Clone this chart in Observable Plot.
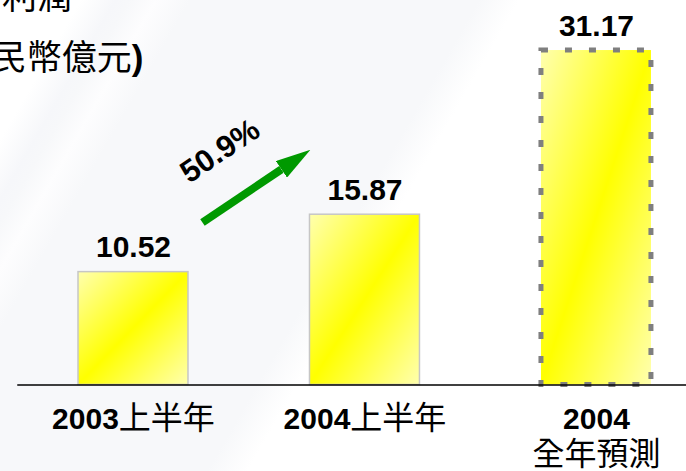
<!DOCTYPE html>
<html>
<head>
<meta charset="utf-8">
<script src="https://cdn.jsdelivr.net/npm/d3@7"></script>
<script src="https://cdn.jsdelivr.net/npm/@observablehq/plot@0.6"></script>
<style>
  html, body { margin: 0; padding: 0; width: 686px; height: 471px; overflow: hidden; background: #fff; }
  #wrap {
    position: relative; width: 686px; height: 471px; overflow: hidden;
    background: linear-gradient(120deg, #ffffff 0px, #ffffff 70px, #f6f7fa 100px, #f7f8fa 112px,
      #fdfdfe 135px, #f7f8fa 165px, #f7f8fa 415px, #ffffff 450px);
  }
  #chart { position: absolute; left: 0; top: 0; }
  .t { position: absolute; white-space: nowrap; line-height: 1; color: #000;
       font-family: "Noto Sans CJK TC", "Noto Sans CJK SC", sans-serif; font-size: 35px; }
  .t b { font-family: "Liberation Sans", Arial, sans-serif; font-weight: bold; }
</style>
</head>
<body>
<div id="wrap">
  <div id="chart"></div>
  <div class="t" style="left:-33px; top:-24px;">淨利潤</div>
  <div class="t" style="left:-55px; top:37px;"><b>(</b>人民幣億元<b>)</b></div>
</div>
<script>
// ---- data ----
const categories = ["2003上半年", "2004上半年", "2004\n全年預測"];
const values = [10.52, 15.87, 31.17];
const isForecast = [false, false, true];
const growthText = "50.9%";
// growth arrow, in [slot index, value] coordinates
const arrowTail = [0.798, 15.14];
const arrowHeadBase = [1.139, 20.10];
const growthLabelAt = [0.874, 21.8];

const data = categories.map((c, i) => ({i, category: c, value: values[i], forecast: isForecast[i]}));
const actual = data.filter(d => !d.forecast);
const forecast = data.filter(d => d.forecast);

function arrowHead(color, context) {
  const doc = (context && context.document) || document;
  const ns = "http://www.w3.org/2000/svg";
  const m = doc.createElementNS(ns, "marker");
  m.setAttribute("viewBox", "0 -10 35 20");
  m.setAttribute("markerWidth", 35);
  m.setAttribute("markerHeight", 20);
  m.setAttribute("refX", 0);
  m.setAttribute("refY", 0);
  m.setAttribute("orient", "auto");
  m.setAttribute("markerUnits", "userSpaceOnUse");
  const p = doc.createElementNS(ns, "path");
  p.setAttribute("d", "M0,-10L35,0L0,10Z");
  p.setAttribute("fill", color);
  p.setAttribute("stroke", "none");
  m.appendChild(p);
  return m;
}

const FONT = "'Liberation Sans', Arial, sans-serif";

const chart = Plot.plot({
  width: 686,
  height: 471,
  marginLeft: 17.25,
  marginRight: 0,
  marginTop: 30.4,
  marginBottom: 86.5,
  style: {background: "transparent", fontFamily: FONT, overflow: "visible"},
  x: {type: "linear", domain: [0, 2.889], axis: null},
  y: {domain: [0, 33], axis: null},
  marks: [
    Plot.rectY(actual, {
      x1: "i", x2: d => d.i + 1, y: "value",
      insetLeft: 60.75, insetRight: 60.75,
      fill: "url(#barGrad)", stroke: "#c6c6c6", strokeWidth: 1.5
    }),
    Plot.rectY(forecast, {
      x1: "i", x2: d => d.i + 1, y: "value",
      insetLeft: 60.75, insetRight: 60.75,
      fill: "url(#barGrad)", stroke: "#7f7f7f", strokeWidth: 5, strokeDasharray: "7 17"
    }),
    Plot.ruleY([0], {stroke: "#000", strokeWidth: 1.6}),
    Plot.text(data, {
      x: d => d.i + 0.5, y: "value", text: d => d.value.toFixed(2),
      lineAnchor: "bottom", dy: -14.7,
      fontSize: 30, fontWeight: "bold", fill: "#000"
    }),
    Plot.text(data, {
      x: d => d.i + 0.5, y: 0, text: "category",
      lineAnchor: "top", lineHeight: 1.23, dy: 17.3,
      fontSize: 30, fill: "#000", className: "catlabel"
    }),
    Plot.link([{a: arrowTail, b: arrowHeadBase}], {
      x1: d => d.a[0], y1: d => d.a[1], x2: d => d.b[0], y2: d => d.b[1],
      stroke: "#009900", strokeWidth: 8, markerEnd: arrowHead
    }),
    Plot.text([growthLabelAt], {
      x: d => d[0], y: d => d[1], text: () => growthText,
      rotate: -34, fontSize: 31, fontWeight: "bold", fill: "#000"
    })
  ]
});

// gradient definition for bars
const svg = d3.select(chart);
const defs = svg.insert("defs", ":first-child");
const g = defs.append("linearGradient").attr("id", "barGrad")
  .attr("x1", 0).attr("y1", 0).attr("x2", 1).attr("y2", 1);
g.append("stop").attr("offset", "0%").attr("stop-color", "#ffffae");
g.append("stop").attr("offset", "50%").attr("stop-color", "#ffff00");
g.append("stop").attr("offset", "100%").attr("stop-color", "#ffffae");

// category labels: bold digits, regular CJK
svg.selectAll("g.catlabel text").each(function () {
  const tspans = Array.from(this.querySelectorAll("tspan"));
  const lines = tspans.length ? tspans : [this];
  lines.forEach(node => {
    const s = node.textContent;
    const m = s.match(/^(\d*)(.*)$/);
    node.textContent = "";
    const sel = d3.select(node);
    if (m[1]) sel.append("tspan").attr("font-weight", "bold").attr("font-family", FONT).text(m[1]);
    if (m[2]) sel.append("tspan").attr("font-weight", "normal")
      .attr("font-family", "'Noto Sans CJK TC', 'Noto Sans CJK SC', sans-serif")
      .attr("font-size", 32).text(m[2]);
  });
});

document.getElementById("chart").appendChild(chart);
</script>
</body>
</html>
